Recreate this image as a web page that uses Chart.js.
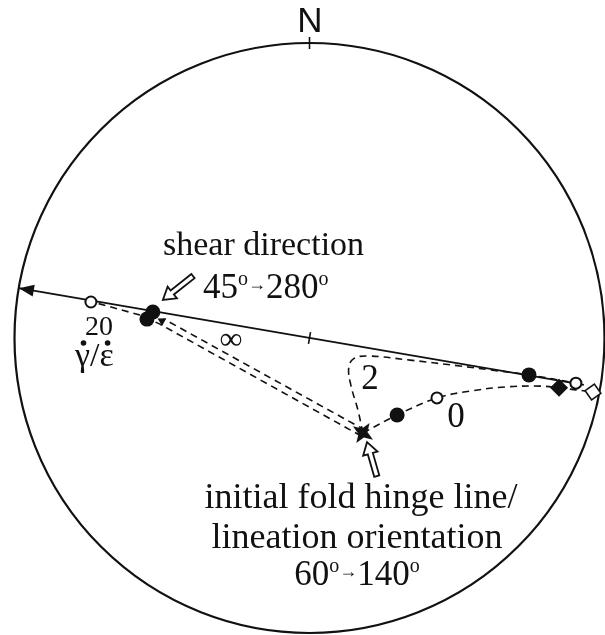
<!DOCTYPE html>
<html>
<head>
<meta charset="utf-8">
<script src="https://cdn.jsdelivr.net/npm/chart.js@4.4.1/dist/chart.umd.min.js"></script>
<style>
    html, body { margin: 0; padding: 0; background: #fff; }
    canvas { display: block; }
</style>
</head>
<body>
<canvas id="net" width="605" height="635"></canvas>
<script>
// Projection coordinates (unit circle = primitive of the net)
const greatCircle = [{ x: -0.985, y: 0.169 }, { x: 0.930, y: -0.159 }];

// strain paths for gamma-dot / epsilon-dot ratios
const path0 = [
    { x: 0.181, y: -0.322 }, { x: 0.297, y: -0.261 }, { x: 0.432, y: -0.203 },
    { x: 0.544, y: -0.180 }, { x: 0.663, y: -0.166 }, { x: 0.781, y: -0.163 },
    { x: 0.846, y: -0.169 }, { x: 0.961, y: -0.183 },
];
const path2 = [
    { x: 0.181, y: -0.322 }, { x: 0.164, y: -0.244 }, { x: 0.140, y: -0.159 },
    { x: 0.133, y: -0.100 }, { x: 0.150, y: -0.070 }, { x: 0.198, y: -0.061 },
    { x: 0.341, y: -0.075 }, { x: 0.510, y: -0.095 }, { x: 0.612, y: -0.108 },
    { x: 0.744, y: -0.125 }, { x: 0.903, y: -0.153 },
];
const path20 = [
    { x: 0.175, y: -0.332 }, { x: -0.507, y: 0.047 }, { x: -0.575, y: 0.078 },
    { x: -0.724, y: 0.119 },
];
const pathInf = [{ x: 0.188, y: -0.312 }, { x: -0.493, y: 0.064 }];

// markers
const filledCircles = [
    { x: -0.531, y: 0.088 }, { x: -0.551, y: 0.064 },
    { x: 0.297, y: -0.261 }, { x: 0.744, y: -0.125 },
];
const openCircles = [{ x: -0.741, y: 0.122 }, { x: 0.432, y: -0.203 }, { x: 0.903, y: -0.153 }];
const filledDiamonds = [{ x: 0.846, y: -0.169 }];
const openDiamonds = [{ x: 0.961, y: -0.183 }];
const initialLineation = [{ x: 0.181, y: -0.322 }];
const shearTip = [{ x: -0.500, y: 0.058 }];

const SERIF = '"Liberation Serif", "Times New Roman", serif';
const SANS = '"Liberation Sans", Arial, sans-serif';

// 4-pointed star for the initial orientation
function makeStar(r) {
    const c = document.createElement("canvas");
    c.width = c.height = r * 2 + 2;
    const g = c.getContext("2d");
    g.translate(r + 1, r + 1);
    g.rotate(Math.PI / 4 - 0.2);
    g.beginPath();
    for (let i = 0; i < 8; i++) {
        const a = i * Math.PI / 4 - Math.PI / 2;
        const rr = i % 2 === 0 ? r : r * 0.38;
        g.lineTo(Math.cos(a) * rr, Math.sin(a) * rr);
    }
    g.closePath();
    g.fillStyle = "#111";
    g.fill();
    return c;
}

function drawRuns(ctx, runs, x, y, align, family) {
    let total = 0;
    runs.forEach(r => {
        ctx.font = r[1] + "px " + family;
        total += ctx.measureText(r[0]).width;
    });
    let cx = align === "center" ? x - total / 2 : x;
    ctx.textAlign = "left";
    runs.forEach(r => {
        ctx.font = r[1] + "px " + family;
        ctx.fillText(r[0], cx, y + (r[2] || 0));
        cx += ctx.measureText(r[0]).width;
    });
}

function hollowArrow(ctx, tail, tip) {
    const dx = tip.x - tail.x, dy = tip.y - tail.y;
    const len = Math.hypot(dx, dy);
    const ux = dx / len, uy = dy / len, nx = -uy, ny = ux;
    const L = 12, W = 7.5, s = 2.6;
    const bx = tip.x - ux * L, by = tip.y - uy * L;
    ctx.beginPath();
    ctx.moveTo(tail.x + nx * s, tail.y + ny * s);
    ctx.lineTo(bx + nx * s, by + ny * s);
    ctx.lineTo(bx + nx * W, by + ny * W);
    ctx.lineTo(tip.x, tip.y);
    ctx.lineTo(bx - nx * W, by - ny * W);
    ctx.lineTo(bx - nx * s, by - ny * s);
    ctx.lineTo(tail.x - nx * s, tail.y - ny * s);
    ctx.closePath();
    ctx.fillStyle = "#fff";
    ctx.fill();
    ctx.lineWidth = 1.8;
    ctx.strokeStyle = "#111";
    ctx.stroke();
}

// primitive circle, ticks, arrowheads and labels
const netPlugin = {
    id: "net",
    beforeDatasetsDraw(chart) {
        const { ctx, scales: { x, y } } = chart;
        const cx = x.getPixelForValue(0), cy = y.getPixelForValue(0);
        const r = x.getPixelForValue(1) - cx;
        ctx.save();
        ctx.strokeStyle = "#111";
        ctx.lineWidth = 2.2;
        ctx.beginPath();
        ctx.arc(cx, cy, r, 0, Math.PI * 2);
        ctx.stroke();
        // north tick
        ctx.lineWidth = 1.6;
        ctx.beginPath();
        ctx.moveTo(cx, cy - r - 6);
        ctx.lineTo(cx, cy - r + 6);
        ctx.stroke();
        // centre tick across the great circle
        const a = { x: x.getPixelForValue(greatCircle[0].x), y: y.getPixelForValue(greatCircle[0].y) };
        const b = { x: x.getPixelForValue(greatCircle[1].x), y: y.getPixelForValue(greatCircle[1].y) };
        const l = Math.hypot(b.x - a.x, b.y - a.y);
        const ux = (b.x - a.x) / l, uy = (b.y - a.y) / l;
        ctx.beginPath();
        ctx.moveTo(cx + uy * 6, cy - ux * 6);
        ctx.lineTo(cx - uy * 6, cy + ux * 6);
        ctx.stroke();
        ctx.restore();
    },
    afterDatasetsDraw(chart) {
        const { ctx, scales: { x, y } } = chart;
        const px = p => ({ x: x.getPixelForValue(p.x), y: y.getPixelForValue(p.y) });
        ctx.save();
        // arrowhead at the west end of the great circle
        const a = px(greatCircle[0]), b = px(greatCircle[1]);
        const l = Math.hypot(b.x - a.x, b.y - a.y);
        const ux = (b.x - a.x) / l, uy = (b.y - a.y) / l;
        ctx.fillStyle = "#111";
        ctx.beginPath();
        ctx.moveTo(a.x, a.y);
        ctx.lineTo(a.x + ux * 15 - uy * 6, a.y + uy * 15 + ux * 6);
        ctx.lineTo(a.x + ux * 15 + uy * 6, a.y + uy * 15 - ux * 6);
        ctx.closePath();
        ctx.fill();

        hollowArrow(ctx, px({ x: -0.395, y: 0.210 }), px({ x: -0.497, y: 0.129 }));
        hollowArrow(ctx, px({ x: 0.228, y: -0.468 }), px({ x: 0.195, y: -0.353 }));

        ctx.fillStyle = "#111";
        ctx.textBaseline = "alphabetic";
        drawRuns(ctx, [["N", 35]], 310, 32, "center", SANS);
        drawRuns(ctx, [["shear direction", 34]], 163, 255, "left", SERIF);
        drawRuns(ctx, [["45", 35], ["o", 20, -13], ["\u2192", 18, -8], ["280", 35], ["o", 20, -13]], 203, 298, "left", SERIF);
        drawRuns(ctx, [["20", 28]], 99, 335, "center", SERIF);
        // gamma-dot / epsilon-dot
        ctx.font = "34px " + SERIF;
        const wg = ctx.measureText("\u03b3").width, ws = ctx.measureText("/").width, we = ctx.measureText("\u03b5").width;
        drawRuns(ctx, [["\u03b3/\u03b5", 34]], 75, 366, "left", SERIF);
        ctx.beginPath();
        ctx.arc(75 + wg / 2 + 1, 343, 2.8, 0, Math.PI * 2);
        ctx.arc(75 + wg + ws + we / 2 + 1, 343, 2.8, 0, Math.PI * 2);
        ctx.fill();
        drawRuns(ctx, [["\u221e", 32]], 231, 349, "center", SERIF);
        drawRuns(ctx, [["2", 35]], 370, 389, "center", SERIF);
        drawRuns(ctx, [["0", 35]], 456, 427, "center", SERIF);
        drawRuns(ctx, [["initial fold hinge line/", 36]], 361, 508, "center", SERIF);
        drawRuns(ctx, [["lineation orientation", 36]], 357, 548, "center", SERIF);
        drawRuns(ctx, [["60", 35], ["o", 20, -13], ["\u2192", 18, -8], ["140", 35], ["o", 20, -13]], 357, 585, "center", SERIF);
        ctx.restore();
    },
};

const dashed = { showLine: true, pointRadius: 0, borderColor: "#111", borderWidth: 1.6, borderDash: [7, 5], fill: false };

new Chart(document.getElementById("net"), {
    type: "scatter",
    data: {
        datasets: [
            { label: "initial", data: initialLineation, pointStyle: makeStar(12), pointRadius: 12 },
            { label: "filled circles", data: filledCircles, pointStyle: "circle", pointRadius: 7.5, backgroundColor: "#111", borderColor: "#111", borderWidth: 0 },
            { label: "open circles", data: openCircles, pointStyle: "circle", pointRadius: 5.5, backgroundColor: "#fff", borderColor: "#111", borderWidth: 2 },
            { label: "filled diamonds", data: filledDiamonds, pointStyle: "rectRot", pointRadius: 9, backgroundColor: "#111", borderColor: "#111", borderWidth: 0 },
            { label: "open diamonds", data: openDiamonds, pointStyle: "rect", rotation: 55, pointRadius: 8, backgroundColor: "#fff", borderColor: "#111", borderWidth: 1.6 },
            { label: "shear tip", data: shearTip, pointStyle: "triangle", rotation: 299, pointRadius: 5, backgroundColor: "#111", borderColor: "#111", borderWidth: 0 },
            { label: "0", data: path0, tension: 0.35, ...dashed },
            { label: "2", data: path2, tension: 0.4, ...dashed },
            { label: "20", data: path20, tension: 0, ...dashed },
            { label: "inf", data: pathInf, tension: 0, ...dashed },
            { label: "great circle", data: greatCircle, showLine: true, pointRadius: 0, borderColor: "#111", borderWidth: 1.8 },
        ],
    },
    options: {
        responsive: false,
        animation: false,
        devicePixelRatio: 1,
        layout: { autoPadding: false, padding: 0 },
        plugins: { legend: { display: false }, tooltip: { enabled: false } },
        scales: {
            x: { type: "linear", min: -309.5 / 295, max: (605 - 309.5) / 295, display: false },
            y: { type: "linear", min: (338 - 635) / 295, max: 338 / 295, display: false },
        },
    },
    plugins: [netPlugin],
});
</script>
</body>
</html>
